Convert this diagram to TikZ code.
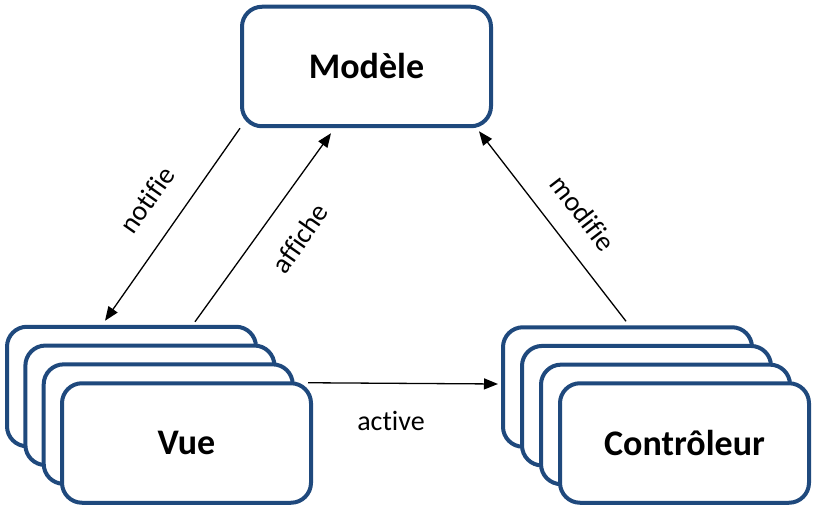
\documentclass[tikz,border=0pt]{standalone}
\usepackage{fontspec}
\setmainfont[Ligatures={NoCommon}]{Carlito}
\usetikzlibrary{arrows.meta,calc}
\definecolor{boxblue}{RGB}{31,73,125}
\begin{document}
\begin{tikzpicture}[x=1pt,y=-1pt,
  card/.style={draw=boxblue, line width=4pt, fill=white, rounded corners=20pt,
    minimum width=249pt, minimum height=119.5pt, inner sep=0pt,
    font=\fontsize{36}{40}\selectfont\bfseries},
  link/.style={line width=1.3pt, -{Triangle[length=14pt,width=11pt]}},
  lbl/.style={font=\fontsize{28}{32}\selectfont, inner sep=0pt}]
\useasboundingbox (0,0) rectangle (815,511);

\node[card] (modele) at (366.5,66.5) {Modèle};

\node[card] (vue1) at (131.5,386.5) {};
\node[card] (vue2) at (149.9,405.3) {};
\node[card] (vue3) at (168.2,424.1) {};
\node[card] (vue4) at (186.5,443) {Vue};

\node[card] (ctrl1) at (627.5,387) {};
\node[card] (ctrl2) at (646.5,405.7) {};
\node[card] (ctrl3) at (665.5,424.4) {};
\node[card] (ctrl4) at (684.5,443) {Contrôleur};

\draw[link] (modele.south west) -- ($(vue1.north)+(-26.5,-4)$);
\draw[link] ($(vue1.north)+(63.5,-3)$) -- ($(modele.south)+(-35.5,5)$);
\draw[link] ($(ctrl1.north)+(-1.5,-4)$) -- ($(modele.south east)+(-14,3)$);
\draw[link] ($(vue4.north east)+(-5,1.5)$) -- ($(ctrl1.west)+(-3,-3)$);

\node[lbl, rotate=55] (lnotifie) at (147,200) {notifie};
\node[lbl, rotate=55] (laffiche) at (300,238) {affiche};
\node[lbl, rotate=-52.5] (lmodifie) at (583,213) {modifie};
\node[lbl] (lactive) at (391,421) {active};
\end{tikzpicture}
\end{document}
